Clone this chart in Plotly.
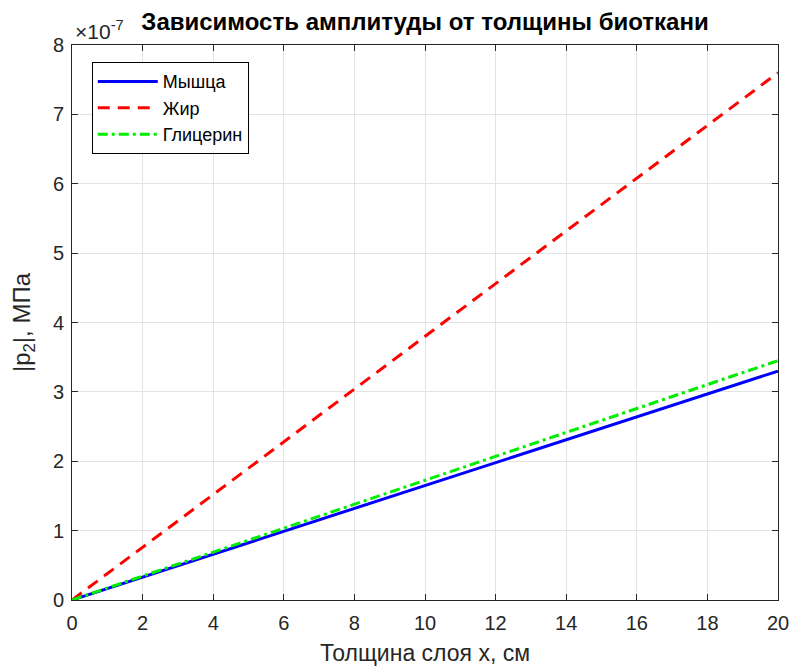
import plotly.graph_objects as go

x_cm = [0, 2, 4, 6, 8, 10, 12, 14, 16, 18, 20]
muscle = [0, 0.33e-7, 0.66e-7, 0.99e-7, 1.32e-7, 1.65e-7, 1.98e-7, 2.31e-7, 2.64e-7, 2.97e-7, 3.30e-7]
fat = [0, 0.76e-7, 1.52e-7, 2.28e-7, 3.04e-7, 3.80e-7, 4.56e-7, 5.32e-7, 6.08e-7, 6.84e-7, 7.60e-7]
glycerin = [0, 0.345e-7, 0.69e-7, 1.035e-7, 1.38e-7, 1.725e-7, 2.07e-7, 2.415e-7, 2.76e-7, 3.105e-7, 3.45e-7]

x_ticks = [0, 2, 4, 6, 8, 10, 12, 14, 16, 18, 20]
y_ticks = [0, 1e-7, 2e-7, 3e-7, 4e-7, 5e-7, 6e-7, 7e-7, 8e-7]
y_tick_labels = ["0", "1", "2", "3", "4", "5", "6", "7", "8"]

FONT = "Arial, Liberation Sans, sans-serif"
W, H = 791, 666

fig = go.Figure()
fig.add_trace(go.Scatter(x=x_cm, y=muscle, mode="lines", name="Мышца",
                         line=dict(color="#0000FF", width=3)))
fig.add_trace(go.Scatter(x=x_cm, y=fat, mode="lines", name="Жир",
                         line=dict(color="#FF0000", width=3, dash="12px,8px")))
fig.add_trace(go.Scatter(x=x_cm, y=glycerin, mode="lines", name="Глицерин",
                         line=dict(color="#00EE00", width=3, dash="10px,4px,3px,4px")))

axis_common = dict(showline=True, linecolor="#262626", linewidth=1, mirror="ticks",
                   ticks="inside", ticklen=6, tickcolor="#262626", tickwidth=1,
                   showgrid=True, gridcolor="#e3e3e3", gridwidth=1, zeroline=False,
                   automargin=False,
                   tickfont=dict(family=FONT, size=20, color="#262626"))

fig.update_layout(
    width=W, height=H,
    margin=dict(l=72, r=13, t=45, b=66),
    paper_bgcolor="white", plot_bgcolor="white",
    font=dict(family=FONT, color="#262626"),
    title=dict(text="<b>Зависимость амплитуды от толщины биоткани</b>",
               xref="paper", x=0.5, xanchor="center",
               yref="container", y=1 - 22 / H, yanchor="middle",
               font=dict(family=FONT, size=24, color="black")),
    xaxis=dict(range=[0, 20], tickvals=x_ticks, ticklabelstandoff=5, **axis_common,
               title=dict(text="Толщина слоя x, см", font=dict(family=FONT, size=23, color="#262626"),
                          standoff=14)),
    yaxis=dict(range=[0, 8e-7], tickvals=y_ticks, ticktext=y_tick_labels, ticklabelstandoff=3,
               **axis_common,
               title=dict(text="|p<sub>2</sub>|, МПа", font=dict(family=FONT, size=24, color="#262626"),
                          standoff=15)),
    legend=dict(x=0.028, y=0.969, xanchor="left", yanchor="top",
                bgcolor="white", bordercolor="black", borderwidth=1,
                font=dict(family=FONT, size=18, color="black"),
                itemwidth=60, tracegroupgap=0),
    annotations=[dict(text="×10<sup>-7</sup>", xref="paper", yref="paper", x=0.0, y=1.0,
                      xanchor="left", yanchor="bottom", showarrow=False, yshift=0, xshift=1,
                      font=dict(family=FONT, size=21, color="#262626"))],
)

fig.write_html("out.html", config={"displayModeBar": False},
               post_script="document.body.style.margin='0px';document.body.style.overflow='hidden';")
